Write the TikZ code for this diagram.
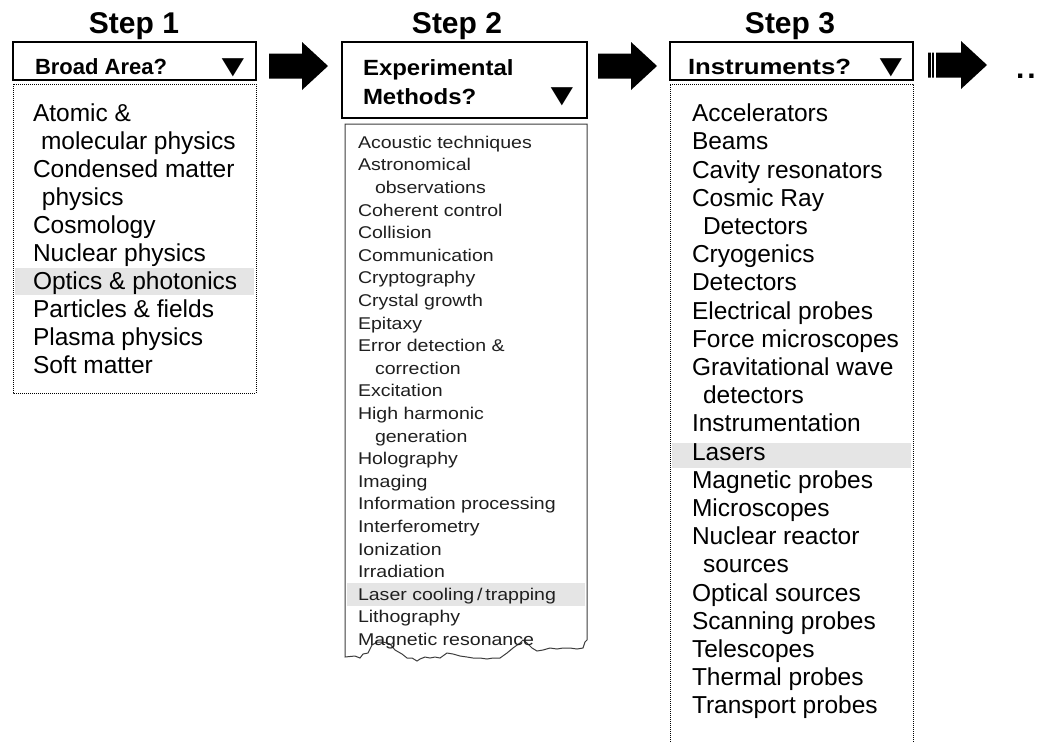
\documentclass[tikz,border=0pt]{standalone}
\usepackage{fontspec}
\setmainfont{Liberation Sans}
\newfontfamily\narrowlist[FakeStretch=1.15]{Liberation Sans}
\newfontfamily\midhead[FakeStretch=1.09]{Liberation Sans}
\newfontfamily\widehead[FakeStretch=1.17]{Liberation Sans}
\usetikzlibrary{positioning}
\definecolor{hilite}{RGB}{229,229,229}
\definecolor{tornedge}{RGB}{60,60,60}
\newcommand{\flatdown}{\scalebox{1}[0.82]{▼}}

\begin{document}
\begin{tikzpicture}[x=1pt, y=-1pt,
  every node/.style={inner sep=0pt, outer sep=0pt},
  steptitle/.style={font=\fontsize{30}{36}\selectfont\bfseries, anchor=base},
  hdbox/.style={draw=black, line width=1.3pt, anchor=north west},
  hdtext/.style={font=\fontsize{22}{29}\selectfont\bfseries, anchor=base west, align=left},
  dropmark/.style={font=\fontsize{38}{42}\selectfont, anchor=base west},
  biglist/.style={font=\fontsize{24.5}{27.95}\selectfont, anchor=north west, align=left},
  smalllist/.style={font=\narrowlist\fontsize{17}{22.6}\selectfont, anchor=north west,
                    align=left, text=black!88},
  listbox/.style={draw=black, line width=1pt, dash pattern=on 1pt off 1pt},
  blockarrow/.pic={\fill (-29.5,-12.5) -- (3.5,-12.5) -- (3.5,-24) -- (29.5,0)
                   -- (3.5,24) -- (3.5,12.5) -- (-29.5,12.5) -- cycle;}
]
\fill[white] (0,0) rectangle (1038,742);

% step titles
\node[steptitle] (t1) at (134,33) {Step 1};
\node[steptitle] (t2) at (457,33) {Step 2};
\node[steptitle] (t3) at (790,33) {Step 3};

% drop-down headers
\node[hdbox, minimum width=243pt, minimum height=38pt] (hd1) at (13,42) {};
\node[hdbox, minimum width=245pt, minimum height=76pt] (hd2) at (342,42) {};
\node[hdbox, minimum width=243pt, minimum height=38pt] (hd3) at (670,42) {};
\node[hdtext] (q1) at (35,74) {Broad Area?};
\node[hdtext, font=\midhead\fontsize{22}{29}\selectfont\bfseries] (q2) at (363,104)
  {Experimental\\Methods?};
\node[hdtext, font=\widehead\fontsize{22}{29}\selectfont\bfseries] (q3) at (688,74)
  {Instruments?};
\node[dropmark] (v1) at (214,76) {\flatdown};
\node[dropmark] (v2) at (543,105) {\flatdown};
\node[dropmark] (v3) at (872,76) {\flatdown};

% highlighted rows
\fill[hilite] (15,268) rectangle (254,295);
\fill[hilite] (347,583) rectangle (585,606);
\fill[hilite] (672,443) rectangle (911,468);

% list frames
\draw[listbox] (13,84) rectangle (256,393);
\draw[listbox] (670,742) -- (670,84) -- (913,84) -- (913,742);
\draw[tornedge, line width=1pt] (587,640) -- (587,124) -- (345,124) -- (345,657)
  -- (355,656) -- (360,658) -- (363,654) -- (368,653) -- (372,645) -- (377,642)
  -- (383,642) -- (390,644) -- (395,650) -- (402,654) -- (407,658) -- (412,658)
  -- (417,661) -- (420,659) -- (425,657) -- (430,658) -- (435,657) -- (440,658)
  -- (447,653) -- (453,654) -- (460,656) -- (467,657) -- (473,658) -- (480,658)
  -- (487,659) -- (493,658) -- (500,658) -- (507,653) -- (513,648) -- (520,643)
  -- (523,640) -- (527,643) -- (532,648) -- (537,651) -- (543,650) -- (550,648)
  -- (557,649) -- (563,648) -- (570,648) -- (577,649) -- (583,648) -- (585,642)
  -- (587,640);

% list contents
\node[biglist] (l1) at (33,104) {Atomic \&\\\hspace*{8pt}molecular physics\\
  Condensed matter\\\hspace*{9pt}physics\\Cosmology\\Nuclear physics\\
  Optics \& photonics\\Particles \& fields\\Plasma physics\\Soft matter};
\node[smalllist] (l2) at (358,136) {Acoustic techniques\\Astronomical\\
  \hspace*{17pt}observations\\Coherent control\\Collision\\Communication\\
  Cryptography\\Crystal growth\\Epitaxy\\Error detection \&\\
  \hspace*{17pt}correction\\Excitation\\High harmonic\\\hspace*{17pt}generation\\
  Holography\\Imaging\\Information processing\\Interferometry\\Ionization\\
  Irradiation\\Laser cooling\,/\,trapping\\Lithography\\Magnetic resonance};
\node[biglist, font=\fontsize{24.5}{28.2}\selectfont] (l3) at (692,104)
  {Accelerators\\Beams\\Cavity resonators\\
  Cosmic Ray\\\hspace*{11pt}Detectors\\Cryogenics\\Detectors\\Electrical probes\\
  Force microscopes\\Gravitational wave\\\hspace*{11pt}detectors\\Instrumentation\\
  Lasers\\Magnetic probes\\Microscopes\\Nuclear reactor\\\hspace*{11pt}sources\\
  Optical sources\\Scanning probes\\Telescopes\\Thermal probes\\Transport probes};

% block arrows between steps
\coordinate (a1) at (298.5,66);
\coordinate (a2) at (627.5,66);
\coordinate (a3) at (957.5,65);
\pic at (a1) {blockarrow};
\pic at (a2) {blockarrow};
\pic at (a3) {blockarrow};
\fill[white] (931,50) rectangle (932.4,82);
\fill[white] (934.3,50) rectangle (935.7,82);
\node[font=\fontsize{30}{36}\selectfont\bfseries, anchor=base west] (more) at (1016,78)
  {.\kern3pt.};
\end{tikzpicture}
\end{document}
